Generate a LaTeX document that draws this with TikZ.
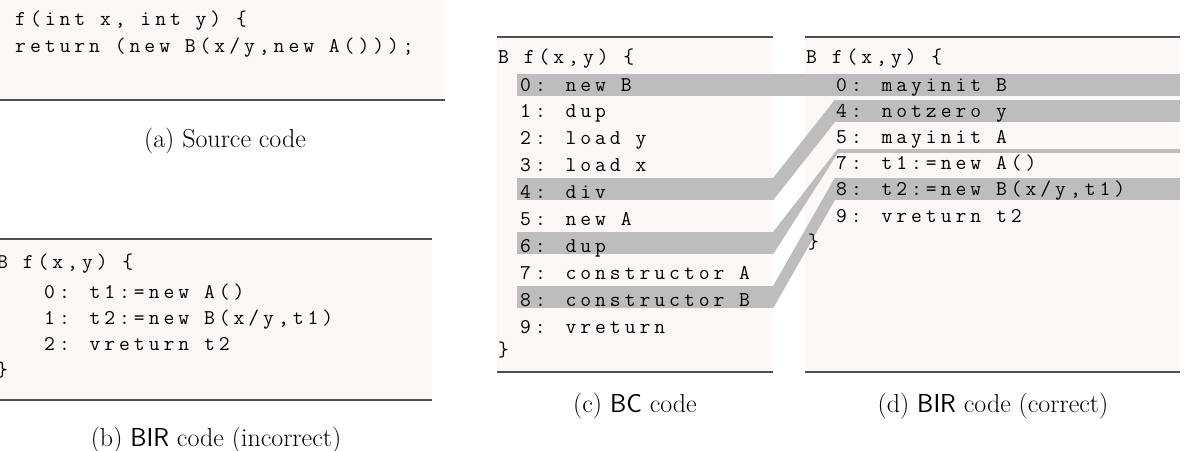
\documentclass[tikz,border=0pt]{standalone}
\usepackage{fontspec}
\usetikzlibrary{positioning}
\newfontfamily\codeff{Latin Modern Mono}[LetterSpace=19]
\definecolor{paper}{HTML}{FDF7F6}
\definecolor{band}{HTML}{BDBDBD}
\definecolor{rule}{HTML}{505050}
\newcommand{\codefont}{\fontsize{21}{24}\codeff}
\newcommand{\capfont}{\fontsize{26}{30}\rmfamily}
\tikzset{
  code/.style={anchor=base west, inner sep=0, font=\codefont},
  caption/.style={anchor=base, inner sep=0, font=\capfont},
  panel/.style={fill=paper, draw=none},
  hrule/.style={draw=rule, line width=1.6pt},
  bar/.style={fill=band, draw=none, inner sep=0, minimum height=22pt},
  cbar/.style={bar, minimum width=256pt},
  dbar/.style={bar, minimum width=345pt},
  link/.style={fill=band, draw=none}
}
\begin{document}
\begin{tikzpicture}[x=1pt, y=-1pt]
  \useasboundingbox (0,0) rectangle (1204,450);

  % (a) source
  \fill[panel] (0,0) rectangle (445,100);
  \draw[hrule] (0,100) -- (445,100);
  \node[code] (a1) at (15,25) {f(int x, int y) \{};
  \node[code] (a2) at (15,52) {return (new B(x/y,new A()));};
  \node[caption] (capA) at (225,147) {(a) Source code};

  % (b) incorrect BIR
  \fill[panel] (0,239) rectangle (432,400);
  \draw[hrule] (0,239) -- (432,239);
  \draw[hrule] (0,400) -- (432,400);
  \node[code] (b0) at (-3,268) {B f(x,y) \{};
  \node[code] (b1) at (44,298) {0: t1:=new A()};
  \node[code] (b2) at (44,324) {1: t2:=new B(x/y,t1)};
  \node[code] (b3) at (44,350) {2: vreturn t2};
  \node[code] (b4) at (-3,376) {\}};
  \node[caption] (capB) at (216,446) {(b) {\sffamily BIR} code (incorrect)};

  % panels (c) and (d) with their bars
  \fill[panel] (497,37) rectangle (773,372);
  \draw[hrule] (497,37) -- (773,37);
  \draw[hrule] (497,372) -- (773,372);
  \fill[panel] (805,37) rectangle (1180,372);
  \draw[hrule] (805,37) -- (1180,37);
  \draw[hrule] (805,372) -- (1180,372);
  \node[cbar] (c0) at (645,85) {};
  \node[cbar] (c4) at (645,189) {};
  \node[cbar] (c6) at (645,243) {};
  \node[cbar] (c8) at (645,297) {};
  \node[dbar] (d0) at (1007.5,85) {};
  \node[dbar] (d4) at (1007.5,111) {};
  \node[bar, minimum width=342pt, minimum height=4pt] (d7) at (1009,151) {};
  \node[dbar] (d8) at (1007.5,189) {};

  % links between (c) and (d)
  \fill[link] (c0.north east) -- (d0.north west) -- (d0.south west) -- (c0.south east) -- cycle;
  \fill[link] (c4.north east) -- (d4.north west) -- (d4.south west) -- (c4.south east) -- cycle;
  \fill[link] (c6.north east) -- (d7.north west) -- (d7.south west) -- (c6.south east) -- cycle;
  \fill[link] (c8.north east) -- (d8.north west) -- (d8.south west) -- (c8.south east) -- cycle;

  % (c) bytecode
  \node[code] (cH) at (498,63) {B f(x,y) \{};
  \foreach \i/\t [count=\k from 0] in {0/new B, 1/dup, 2/load y, 3/load x, 4/div,
      5/new A, 6/dup, 7/constructor A, 8/constructor B, 9/vreturn}
    \node[code] (cl\i) at (520,{91+26.9*\k}) {\i: \t};
  \node[code] (cE) at (498,356) {\}};
  \node[caption] (capC) at (635,412) {(c) {\sffamily BC} code};

  % (d) correct BIR
  \node[code] (dH) at (806,63) {B f(x,y) \{};
  \foreach \i/\t [count=\k from 0] in {0/mayinit B, 4/notzero y, 5/mayinit A,
      7/{t1:=new A()}, 8/{t2:=new B(x/y,t1)}, 9/vreturn t2}
    \node[code] (dl\i) at (836,{91+26.2*\k}) {\i: \t};
  \node[code] (dE) at (808,248) {\}};
  \node[caption] (capD) at (993,412) {(d) {\sffamily BIR} code (correct)};
\end{tikzpicture}
\end{document}
